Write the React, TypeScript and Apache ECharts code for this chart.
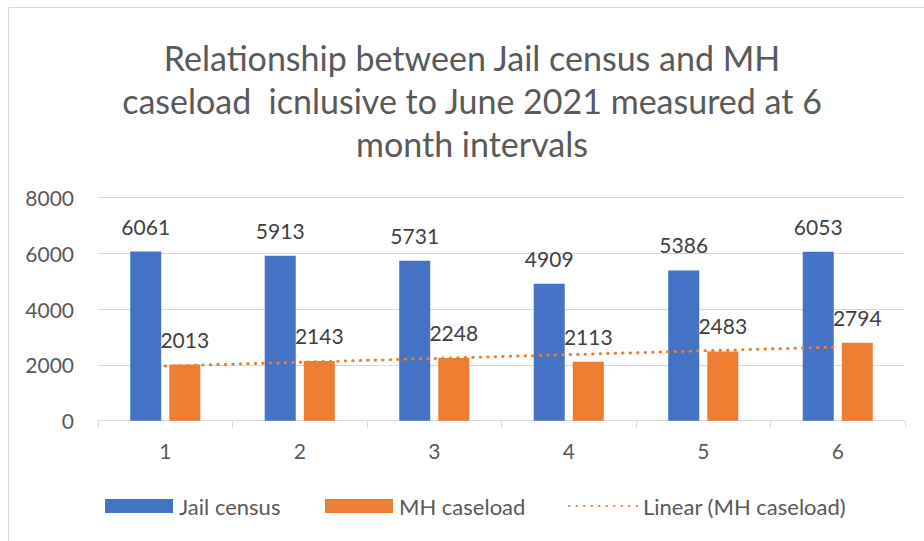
import React, { useEffect, useRef } from "react";
import * as echarts from "echarts";

const categories = ["1", "2", "3", "4", "5", "6"];
const jailCensus = [6061, 5913, 5731, 4909, 5386, 6053];
const mhCaseload = [2013, 2143, 2248, 2113, 2483, 2794];
const yTicks = { min: 0, max: 8000, interval: 2000 };
const titleLines = [
  "Relationship between Jail census and MH",
  "caseload  icnlusive to June 2021 measured at 6",
  "month intervals",
];

// Linear trendline (least squares) of MH caseload, as Excel's "Linear (MH caseload)"
function linearTrend(values: number[]): number[] {
  const n = values.length;
  const xs = values.map((_, i) => i + 1);
  const mx = xs.reduce((a, b) => a + b, 0) / n;
  const my = values.reduce((a, b) => a + b, 0) / n;
  let sxy = 0;
  let sxx = 0;
  for (let i = 0; i < n; i++) {
    sxy += (xs[i] - mx) * (values[i] - my);
    sxx += (xs[i] - mx) * (xs[i] - mx);
  }
  const slope = sxy / sxx;
  const intercept = my - slope * mx;
  return xs.map((x) => Math.round((intercept + slope * x) * 10) / 10);
}

const FONT = "Lato, 'Open Sans', sans-serif";
const BLUE = "#4472C4";
const ORANGE = "#ED7D31";
const TEXT = "#595959";
const GRID = "#d9d9d9";
const FS = 21;

export default function App() {
  const ref = useRef<HTMLDivElement>(null);
  useEffect(() => {
    if (!ref.current) return;
    const chart = echarts.init(ref.current, undefined, { renderer: "svg" });
    const trend = linearTrend(mhCaseload);
    const legendCommon = {
      top: 495,
      padding: 0,
      itemHeight: 14,
      itemWidth: 68,
      itemGap: 0,
      textStyle: { color: TEXT, fontSize: 22, fontFamily: FONT, padding: [0, 0, 0, 1] },
    };
    chart.setOption({
      animation: false,
      textStyle: { fontFamily: FONT },
      graphic: [
        {
          type: "rect",
          z: -10,
          shape: { x: 8.5, y: 7.5, width: 1000, height: 1000 },
          style: { fill: "#fff", stroke: GRID, lineWidth: 1 },
          silent: true,
        },
        ...titleLines.map((t, i) => ({
          type: "text",
          x: 472,
          y: 57 + i * 43,
          style: {
            text: t,
            fill: TEXT,
            font: `34px ${FONT}`,
            textAlign: "center",
            textVerticalAlign: "middle",
          },
        })),
      ],
      grid: { left: 98, right: 19, top: 197.5, bottom: 120.3 },
      legend: [
        { ...legendCommon, left: 105, data: ["Jail census"], icon: "rect" },
        { ...legendCommon, left: 325, data: ["MH caseload"], icon: "rect" },
        {
          ...legendCommon,
          left: 568,
          data: ["Linear (MH caseload)"],
          itemStyle: { opacity: 0 },
        },
      ],
      xAxis: {
        type: "category",
        data: categories,
        axisLine: { lineStyle: { color: GRID, width: 1 } },
        axisTick: { show: true, length: 7, lineStyle: { color: GRID } },
        axisLabel: { color: TEXT, fontSize: FS, margin: 19, fontFamily: FONT },
      },
      yAxis: {
        type: "value",
        min: yTicks.min,
        max: yTicks.max,
        interval: yTicks.interval,
        axisLine: { show: false },
        axisTick: { show: false },
        splitLine: { lineStyle: { color: GRID, width: 1 } },
        axisLabel: {
          color: TEXT,
          fontSize: FS,
          margin: 24,
          fontFamily: FONT,
          formatter: (v: number) => String(v),
        },
      },
      series: [
        {
          name: "Jail census",
          type: "bar",
          data: jailCensus,
          barWidth: 31,
          barGap: "26%",
          itemStyle: { color: BLUE },
          label: {
            show: true,
            position: "top",
            distance: 15,
            color: "#404040",
            fontSize: FS,
            fontFamily: FONT,
          },
        },
        {
          name: "MH caseload",
          type: "bar",
          data: mhCaseload,
          barWidth: 31,
          barGap: "26%",
          itemStyle: { color: ORANGE },
          label: {
            show: true,
            position: "top",
            distance: 15,
            color: "#404040",
            fontSize: FS,
            fontFamily: FONT,
          },
        },
        {
          name: "Linear (MH caseload)",
          type: "line",
          data: trend,
          symbol: "none",
          z: 5,
          itemStyle: { color: ORANGE },
          lineStyle: { color: ORANGE, width: 3, type: [0.5, 7], cap: "round" },
        },
      ],
    });
    return () => chart.dispose();
  }, []);
  return (
    <div
      ref={ref}
      style={{ position: "absolute", left: 0, top: 0, width: 924, height: 541 }}
    />
  );
}
